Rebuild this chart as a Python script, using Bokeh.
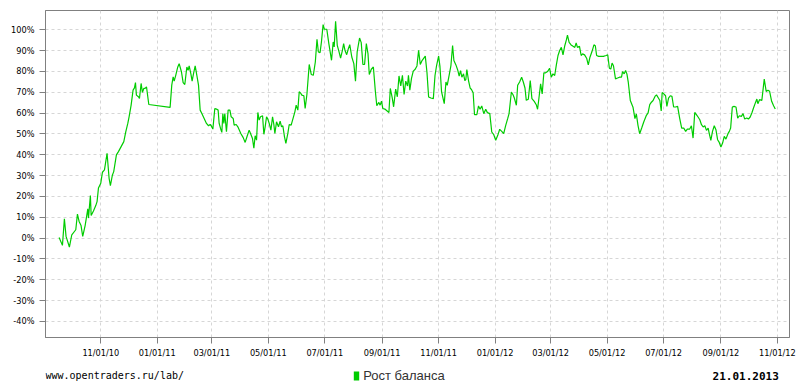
import pandas as pd
from bokeh.plotting import figure
from bokeh.layouts import column
from bokeh.models import (Range1d, FixedTicker, DatetimeTickFormatter, PrintfTickFormatter,
                          Label, BoxAnnotation, ColumnDataSource)
from bokeh.embed import file_html
from bokeh.resources import INLINE

# ---- data -------------------------------------------------------------
start_date = "2010-11-01"   # day offsets below are counted from this date
days = [
    -45, -41.4, -39.3, -37.5, -33.9, -31.3, -27, -25.2, -23.4, -21.3, -19.5, -16.9, -14, -13.3,
    -11.2, -10.4, -7.9, -5.4, -4, -2.5, 0, 1.8, 4, 6.8, 9, 10.4, 12.6, 14, 16.9, 19.1, 22, 24.9,
    27, 29.2, 30.6, 32.8, 34.9, 36.4, 37.5, 38.5, 40.7, 41.8, 43.6, 45, 46.5, 47.9, 49.4, 50.8,
    51.9, 74.9, 76.7, 78.2, 79.3, 81, 83.2, 84.7,
    87.2, 89, 90.8, 93, 94.4, 95.5, 97.3, 98.7, 100.2, 102, 103.8, 105.6, 107.4, 109.2, 111.7,
    114.2, 116.4, 118.2, 119.3, 121.1, 123.2, 125, 126.8, 127.9, 129.4, 130.8, 131.9, 133, 134,
    135.8, 137.6, 139.5, 140.9, 143.1, 144.1, 146.3, 148.1, 151.3, 153.9, 156, 158.2, 160.3,
    161.8, 163.9, 165.4, 166.8, 168.3, 169.7, 171.1, 172.6, 174.8, 176.2, 177.6, 179.1, 180.5,
    182, 183.8, 185.6, 187, 188.1, 189.9, 192, 193.8, 195.3, 196.7, 198.5, 200, 202.1, 203.6,
    205.7, 207.9, 209.7, 211.1, 212.9, 214.4, 216.2,
    217.2, 219.4, 220.8, 222.7, 225.2, 227.4, 229.6, 231.8, 233.6, 235.1, 236.9, 238.4, 240.2,
    241.6, 244.2, 246.4, 249.3, 251.1, 252.2, 253.7, 255.5, 257.3, 259.1, 261, 262.4, 263.9,
    265.7, 267.5, 269, 271.2, 273.4, 275.2, 277, 279.6, 281.4, 283.2, 285, 286.9, 288.7, 290.1,
    292.3, 294.5, 296.7, 298.2, 300.4, 301.8, 303.3, 304.7, 306.9, 309.1, 311.3, 312.8, 314.9,
    316.4, 318.6, 320.4, 322.2, 324.1, 325.9, 327.7, 329.5, 331.4, 332.4, 333.9, 335.7, 337.6,
    339.7, 341.6, 343.4, 345.2,
    347.1, 350.6, 352.4, 354.2, 356.7, 359.3, 361.1, 362.8, 365, 366.4, 368.2, 371.1, 372.9,
    374.3, 376.5, 378.3, 380.1, 381.5, 383.7, 385.8, 387.2, 388.7, 390.1, 391.9, 393.3, 394.4,
    395.5, 397.3, 399.1, 400.5, 402.3, 403.8, 406.3, 408.1, 409.8, 411.6, 413.8, 415.9, 417.7,
    420.3, 422.4, 424.6, 426.7, 428.9, 431, 433.2, 435.3, 437.5, 439.6, 441.1, 443.6, 445.4,
    446.8, 449, 450.4, 452.5, 454.7, 456.5, 458.3, 459.7, 461.9, 464, 465.8, 468.3, 470.5,
    471.9, 473.4, 475.2,
    476.9, 478.7, 480.6, 482.7, 484.9, 486.7, 488.5, 490.4, 492.2, 494, 495.8, 497.6, 499.4,
    501.3, 503.1, 504.2, 506, 508.1, 510.3, 512.1, 513.6, 515, 517.2, 519, 520.5, 522.7, 524.9,
    526.7, 528.5, 530.7, 532.8, 534.3, 535.7, 537.9, 540.5, 543, 545.9, 547.7, 549.5, 551,
    552.4, 553.9, 556.1, 558.3, 560.4, 562.6, 563.7, 565.5, 567, 568.4, 569.9, 572.1, 575,
    577.1, 578.6, 580.4, 582.2, 584.4, 586.6, 589.5, 591.3, 593.1, 594.9, 596.7, 598.9, 600.4,
    602.6, 604,
    605.5, 606.5, 608, 610.2, 611.6, 613.4, 615.3, 617.1, 618.9, 621.1, 623.2, 625.4, 627.6,
    629.8, 631.9, 633.7, 636.3, 638.1, 639.9, 641.7, 643.5, 645.3, 647.2, 649, 650.8, 652.6,
    654.4, 656.2, 657.3, 659.1, 660.9, 662.8, 664.6, 666.4, 668.2, 670, 671.8, 673.6, 675.4,
    677.6, 679.1, 680.5, 682.3, 684.1, 686.3, 688.1, 689.9, 692.1, 693.9, 695.7, 697.9, 699.7,
    701.6, 703.4, 705.2, 707.4, 708.8, 709.9, 711.7, 714.2, 715.3, 716.8, 718.9, 720.8, 722.6,
    724.8, 726.9, 728.7,
]
growth = [
    0.3, -3.5, 9.3, 0.8, -4.3, 1.6, 4.0, 11.5, 8.0, 6.0, 0.8, 6.0, 14.0, 9.6,
    20.4, 10.8, 13.0, 15.6, 17.5, 24.0, 26.3, 31.6, 32.7, 40.7, 28.7, 25.2, 30.3, 31.9, 39.9, 41.5, 43.9, 46.3,
    51.0, 55.0, 58.2, 63.8, 71.0, 72.1, 74.6, 68.6, 67.8, 67.0, 74.2, 69.9, 71.8, 71.8, 72.6, 67.8,
    64.1, 62.7, 73.4, 77.4, 75.3, 78.1, 82.1, 83.7,
    79.7, 74.6, 73.7, 82.1, 80.5, 82.6, 78.9, 75.3, 78.9, 82.6, 78.1, 73.4, 61.4, 59.8, 57.4,
    55.0, 53.9, 54.5, 53.9, 52.3, 62.2, 61.9, 61.4, 55.0, 52.6, 50.7, 59.8, 55.0, 59.8,
    51.0, 61.4, 61.4, 58.2, 57.4, 54.2, 54.5, 53.4, 50.2, 48.2, 45.9, 49.0, 51.8,
    50.2, 47.8, 43.1, 49.1, 47.0, 60.3, 56.6, 58.2, 58.7, 49.8, 53.4, 58.2, 57.1,
    55.0, 51.8, 58.2, 54.5, 50.2, 55.8, 53.4, 56.1, 53.4, 53.9, 48.6, 45.5, 50.2, 54.5,
    54.2, 57.7, 60.6, 63.8, 61.4, 70.2, 69.4,
    68.6, 68.3, 62.2, 68.9, 83.3, 78.5, 78.1, 84.5, 95.4, 89.3, 89.0, 94.1, 102.4,
    100.2, 100.2, 93.3, 85.3, 94.1, 91.7, 104.0, 92.5, 89.6, 86.4, 90.0, 93.3, 90.0,
    88.0, 90.9, 92.8, 86.9, 83.7, 75.3, 89.3, 96.0, 93.8, 83.3, 83.3, 93.3, 88.5, 78.5,
    81.0, 82.1, 70.2, 63.5, 65.1, 63.8, 65.7, 62.2, 61.9, 61.1, 60.3, 71.8, 67.3,
    63.0, 71.5, 67.8, 77.8, 73.0, 78.1, 68.9, 75.3, 73.0, 78.1, 71.0, 76.6, 80.1,
    81.0, 82.6, 90.1, 83.3,
    85.2, 87.3, 79.6, 67.7, 67.2, 66.9, 78.0, 82.8, 87.3, 82.5, 70.1, 64.5, 74.9,
    73.3, 78.4, 82.8, 92.4, 85.2, 83.1, 80.4, 77.7, 80.4, 77.2, 78.8, 75.6, 76.1,
    80.9, 75.6, 72.0, 71.3, 69.7, 59.2, 59.2, 63.4, 61.8, 63.4, 59.7, 61.8, 60.2,
    59.7, 50.9, 49.6, 46.9, 49.3, 52.2, 51.2, 50.1, 54.1, 57.3, 59.7, 70.1, 68.8,
    67.2, 63.7, 73.3, 74.9, 77.2, 74.9, 72.0, 66.1, 66.6, 75.6, 66.9, 65.6, 64.0,
    61.8, 67.2, 74.0,
    69.2, 79.3, 79.3, 79.9, 81.5, 77.2, 78.8, 78.0, 83.1, 87.6, 90.0, 91.5, 87.9,
    92.3, 95.2, 97.4, 93.9, 92.7, 92.0, 91.5, 93.6, 91.5, 92.0, 87.6, 88.4, 87.9, 86.3,
    83.1, 86.8, 89.5, 92.7, 92.3, 87.6, 87.2, 87.2, 87.2, 87.6, 87.9, 81.5, 81.1,
    84.0, 82.7, 76.4, 76.8, 77.2, 77.2, 79.9, 78.8, 80.4, 78.8, 74.8, 66.0, 62.8,
    57.3, 59.6, 54.1, 50.1, 52.8, 55.7, 58.9, 60.1, 64.0, 65.2, 66.0, 68.1, 68.7,
    67.1, 66.0,
    61.0, 69.9, 69.3, 68.3, 63.2, 67.2, 68.3, 68.0, 62.9, 62.9, 63.2, 57.6, 52.8,
    52.8, 51.2, 52.3, 52.3, 53.9, 48.0, 60.3, 59.2, 58.1, 56.8, 54.4, 53.3, 53.9,
    51.7, 52.8, 50.4, 46.9, 51.2, 53.9, 52.0, 47.2, 45.9, 43.7, 45.6, 48.8, 47.5,
    50.1, 51.2, 52.8, 62.9, 63.2, 62.9, 57.6, 58.7, 58.4, 59.7, 57.1, 57.6, 57.1,
    58.1, 60.0, 62.4, 65.1, 66.7, 64.5, 66.4, 66.1, 70.4, 76.3, 70.4, 70.9, 70.4,
    65.6, 63.5, 61.9,
]
x_tick_dates = ["2010-11-01", "2011-01-01", "2011-03-01", "2011-05-01", "2011-07-01",
                "2011-09-01", "2011-11-01", "2012-01-01", "2012-03-01", "2012-05-01",
                "2012-07-01", "2012-09-01", "2012-11-01"]
y_ticks = [-40, -30, -20, -10, 0, 10, 20, 30, 40, 50, 60, 70, 80, 90, 100]
series_name = "Рост баланса"
site_text = "www.opentraders.ru/lab/"
report_date = "21.01.2013"

# ---- build ------------------------------------------------------------
dates = pd.Timestamp(start_date) + pd.to_timedelta(days, unit="D")
src = ColumnDataSource(data=dict(date=dates, growth=growth))

def ms(s):
    return pd.Timestamp(s).timestamp() * 1000.0

GREEN = "#00cc00"
GRAY = "#808080"

p = figure(width=800, height=360, x_axis_type="datetime",
           output_backend="svg", toolbar_location=None,
           x_range=Range1d(ms("2010-09-02 07:00"), ms("2012-11-14 02:00")),
           y_range=Range1d(-47.7, 109.2),
           min_border_left=45, min_border_right=11, min_border_top=10, min_border_bottom=22)

p.outline_line_color = GRAY
p.outline_line_width = 1
p.background_fill_color = "white"
p.border_fill_color = "white"

p.xaxis.ticker = FixedTicker(ticks=[ms(t) for t in x_tick_dates])
fmt = "%m/%d/%y"
p.xaxis.formatter = DatetimeTickFormatter(microseconds=fmt, milliseconds=fmt, seconds=fmt,
                                          minsec=fmt, minutes=fmt, hourmin=fmt, hours=fmt,
                                          days=fmt, months=fmt, years=fmt)
p.yaxis.ticker = FixedTicker(ticks=y_ticks)
p.yaxis.formatter = PrintfTickFormatter(format="%d%%")

for ax in (p.xaxis, p.yaxis):
    ax.axis_line_color = GRAY
    ax.axis_line_width = 1
    ax.major_tick_line_color = GRAY
    ax.major_tick_out = 6
    ax.major_tick_in = 0
    ax.minor_tick_line_color = None
    ax.major_label_text_font = "DejaVu Sans"
    ax.major_label_text_font_size = "8.2px"
    ax.major_label_text_color = "#000000"
p.yaxis.major_label_standoff = 5
p.xaxis.major_label_standoff = 4

for g in (p.xgrid, p.ygrid):
    g.grid_line_color = "#d6d6d6"
    g.grid_line_dash = "3 3"
    g.grid_line_width = 1

p.line("date", "growth", source=src, line_color=GREEN, line_width=1.2)

# ---- footer strip (source text, legend, report date) -------------------
# its frame is aligned with the main frame (x from 45 to 789 on the page)
f = figure(width=800, height=24, output_backend="svg", toolbar_location=None,
           x_range=Range1d(0, 1), y_range=Range1d(0, 1),
           x_axis_location=None, y_axis_location=None,
           min_border_left=0, min_border_right=0, min_border_top=0, min_border_bottom=0)
f.outline_line_color = None
f.xgrid.visible = False
f.ygrid.visible = False
f.background_fill_color = "white"
f.border_fill_color = "white"

f.add_layout(BoxAnnotation(left=308.3, right=313.7, bottom=4, top=13,
                           left_units="screen", right_units="screen",
                           bottom_units="screen", top_units="screen",
                           fill_color=GREEN, fill_alpha=1, line_color=None))
f.add_layout(Label(x=317.7, y=9, x_units="screen", y_units="screen", text=series_name,
                   text_font="Liberation Sans", text_font_size="13px",
                   text_baseline="middle", text_align="left", text_color="#333333"))
f.add_layout(Label(x=0, y=9, x_units="screen", y_units="screen", text=site_text,
                   text_font="DejaVu Sans Mono", text_font_size="10px",
                   text_baseline="middle", text_align="left", text_color="#000000"))
f.add_layout(Label(x=733.3, y=9, x_units="screen", y_units="screen", text=report_date,
                   text_font="DejaVu Sans Mono", text_font_size="11px", text_font_style="bold",
                   text_baseline="middle", text_align="right", text_color="#000000"))

layout = column(p, f, spacing=0)
open("out.html", "w").write(file_html(layout, INLINE))
